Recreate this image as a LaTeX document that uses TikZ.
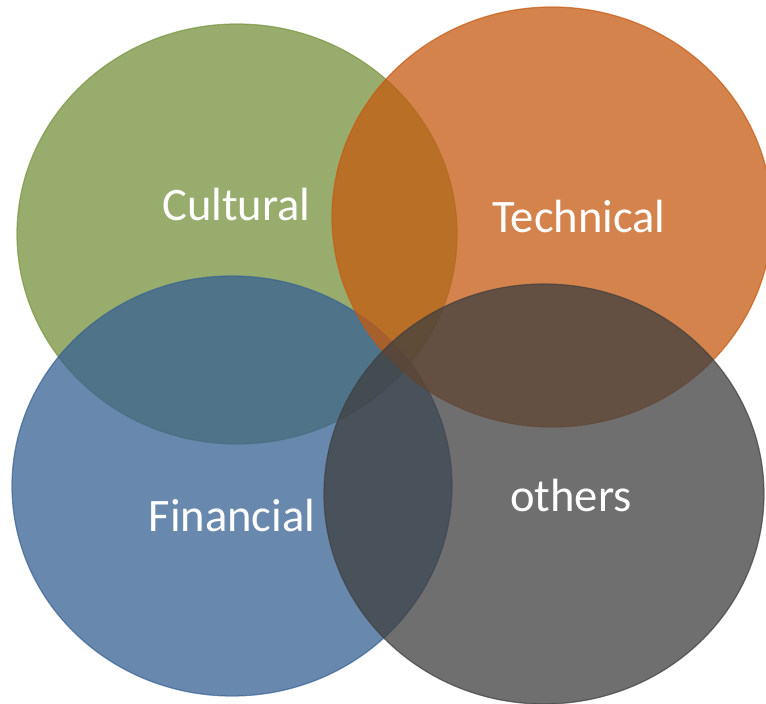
\documentclass[tikz,border=0pt]{standalone}
\usepackage{fontspec}
\setmainfont{Carlito}
\usetikzlibrary{shapes.geometric}

\definecolor{cultgreen}{HTML}{76923C}
\definecolor{techorange}{HTML}{C55A11}
\definecolor{finblue}{HTML}{376092}
\definecolor{othgray}{HTML}{3F3F3F}

\begin{document}
\begin{tikzpicture}[
    set/.style={ellipse, minimum width=8.8cm, minimum height=8.4cm, inner sep=0pt, line width=0.7pt, fill opacity=0.75, draw opacity=0.7},
    lbl/.style={anchor=base, text=white, font=\fontsize{26.5}{31}\selectfont, inner sep=0pt}
]
\useasboundingbox (0,0) rectangle (15.32,14.08);

% the four sets, later ones lie over earlier ones
\node[set, fill=cultgreen, draw=cultgreen] (cult) at (4.74,9.40) {};
\node[set, fill=finblue, draw=finblue] (fin) at (4.64,4.36) {};
\node[set, fill=techorange, draw=techorange] (tech) at (11.04,9.74) {};
\node[set, fill=othgray, draw=othgray] (oth) at (10.88,4.20) {};

\node[lbl] (cultlbl) at (4.73,9.66) {Cultural};
\node[lbl] (techlbl) at (11.58,9.42) {Technical};
\node[lbl] (finlbl) at (4.64,3.44) {Financial};
\node[lbl] (othlbl) at (11.42,3.84) {others};
\end{tikzpicture}
\end{document}
